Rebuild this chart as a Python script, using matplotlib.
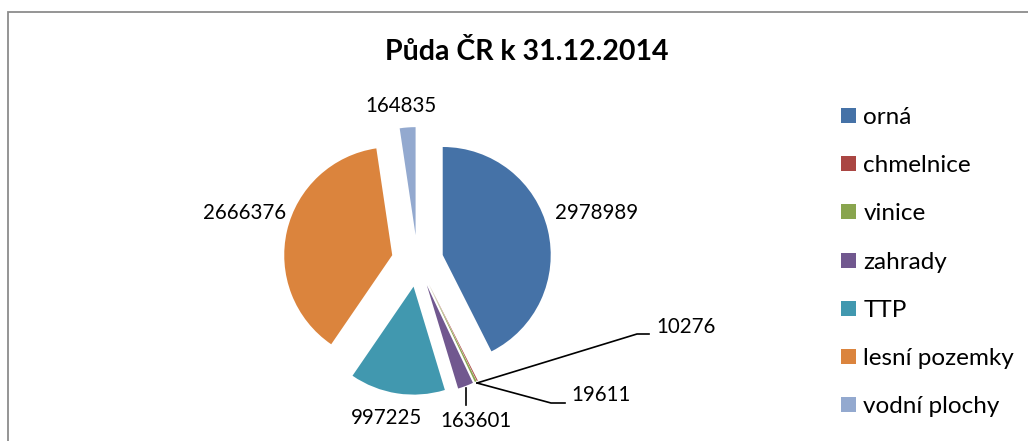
import matplotlib
matplotlib.use("Agg")
import matplotlib.pyplot as plt
from matplotlib.patches import Rectangle

# data
categories = ["orná", "chmelnice", "vinice", "zahrady", "TTP", "lesní pozemky", "vodní plochy"]
values = [2978989, 10276, 19611, 163601, 997225, 2666376, 164835]
colors = ["#4572A7", "#AA4643", "#89A54E", "#71588F", "#4198AF", "#DB843D", "#93A9CF"]
title = "Půda ČR k 31.12.2014"

plt.rcParams['font.family'] = ['Lato', 'DejaVu Sans']

W, H = 1028, 441
cx, cy, R = 417.5, 261, 108   # pie centre / radius in pixels

fig = plt.figure(figsize=(W / 100, H / 100), dpi=100)
ax = fig.add_axes([0, 0, 1, 1])
ax.axis('off')

def px(x, y):
    return ((x - cx) / R, (cy - y) / R)

wedges, _ = ax.pie(values, colors=colors, startangle=90, counterclock=False,
                   radius=1, center=(0, 0), explode=[0.24] * len(values),
                   wedgeprops=dict(linewidth=0))
ax.set_xlim(-cx / R, (W - cx) / R)
ax.set_ylim(-(H - cy) / R, cy / R)
ax.set_aspect('auto')

# label positions (pixels) and leader lines
label_pos = [(597, 213), (686, 327), (601, 395), (476, 421), (387, 418), (245, 213), (401, 106)]
leaders = {1: [(477, 383), (637, 334), (649, 334)],
           2: [(477, 383), (551, 403), (565, 403)],
           3: [(466, 388), (466, 405)]}

for i, v in enumerate(values):
    ax.text(*px(*label_pos[i]), str(v), ha='center', va='center', fontsize=14.8, color='black')
for i, pts in leaders.items():
    xs, ys = zip(*[px(*p) for p in pts])
    ax.plot(xs, ys, color='black', linewidth=1.2)

ax.text(*px(526.5, 52), title, ha='center', va='center', fontsize=20.5, fontweight='bold')

# chart border (right and bottom edges fall outside the image)
fig.patches.append(Rectangle((7.5 / W, -0.2), 1, 1.2 - 11.5 / H, transform=fig.transFigure,
                             fill=False, edgecolor='#8c8c8c', linewidth=1.3))

leg = fig.legend(wedges, categories, loc='upper left', bbox_to_anchor=(841 / W, 1 - 107 / H),
                 frameon=False, fontsize=17.5, borderpad=0, borderaxespad=0,
                 handlelength=0.62, handleheight=0.57, handletextpad=0.3, labelspacing=1.12)

fig.savefig("out.png", dpi=100)
